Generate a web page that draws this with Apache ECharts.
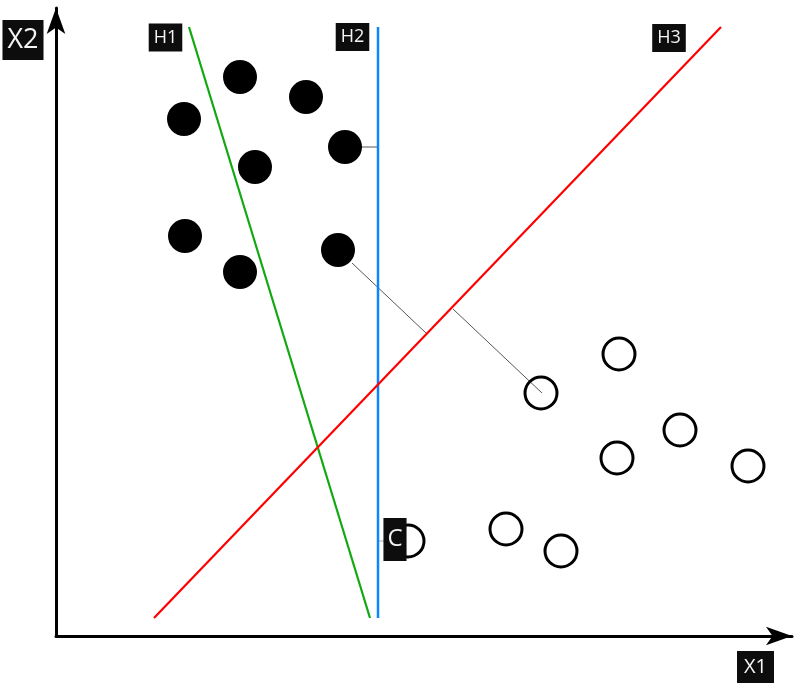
<!DOCTYPE html>
<html>
<head>
<meta charset="utf-8">
<script src="https://cdn.jsdelivr.net/npm/echarts@6/dist/echarts.min.js"></script>
<style>html,body{margin:0;padding:0;background:#fff}#c{width:800px;height:692px}</style>
</head>
<body>
<div id="c"></div>
<script>
// Data in axis units (origin at the axes corner)
const classA = [[184,559],[250,539],[128,517],[289,489],[199,469],[129,400],[184,364],[282,386]];
const classB = [[563,282],[485,243],[624,206],[561,178],[692,170],[450,107],[505,85],[352,95]];
const h1Line = [[133,609],[314,18]];
const h2Line = [[322,609],[322,18]];
const h3Line = [[98,18],[665,609]];
const distA2 = [[289,489],[322,489]];
const distA3 = [[296,373],[370,303]];
const distB3 = [[397,327],[486,243]];
const distC2 = [[322,95],[350,95]];
const labelTexts = ['X2','H1','H2','H3','X1','C'];
const labelAnchors = [[-33,596],[109.5,598.5],[296.5,599],[613,598],[699.5,-31],[339,96.5]];
const labelFont = [27,18,18,18,20,24];

const chart = echarts.init(document.getElementById('c'), null, {renderer:'canvas'});
const lineS = (data, color, width, z) => ({
  type:'line', data, symbol:'none', silent:true, z,
  lineStyle:{color, width, opacity:1}, animation:false
});
const labelData = labelTexts.map((t,i)=>{
  const fs = labelFont[i];
  let padding = [4,5], lh = 20;
  if (t==='X2'){padding=[5,5]; lh=30;}
  if (t==='X1'){padding=[5,7]; lh=22;}
  if (t==='C'){padding=[8,4]; lh=27;}
  return {value: labelAnchors[i], name:t, label:{show:true, position:'inside', formatter:t,
    fontSize:fs, lineHeight:lh, padding, color:'#f4f4f4', backgroundColor:'#0d0d0d',
    fontFamily:'Open Sans'}};
});
const axisCommon = {type:'value', splitLine:{show:false}, axisTick:{show:false}, axisLabel:{show:false},
  axisLine:{show:true, lineStyle:{color:'#000', width:3}, symbol:['none','arrow'], symbolSize:[14,26]}};
chart.setOption({
  animation:false,
  grid:{left:56, right:8, top:8, bottom:56},
  xAxis:Object.assign({min:0, max:736}, axisCommon),
  yAxis:Object.assign({min:0, max:628}, axisCommon),
  series:[
    {type:'scatter', data:classA, symbol:'circle', symbolSize:34, itemStyle:{color:'#000', opacity:1}, z:2},
    {type:'scatter', data:classB, symbol:'circle', symbolSize:32, itemStyle:{color:'rgba(0,0,0,0)', borderColor:'#000', borderWidth:3, opacity:1}, z:2},
    lineS(h1Line,'#12a812',2.2,3),
    lineS(h2Line,'#0a86ff',2.5,3),
    lineS(h3Line,'#ff0000',2.2,3),
    lineS(distA2,'#555',1,1),
    lineS(distA3,'#555',1,1),
    lineS(distB3,'#555',1,1),
    lineS(distC2,'#aaa',1,1),
    {type:'scatter', data:labelData, symbolSize:0, clip:false, z:10, silent:true, itemStyle:{opacity:1}}
  ]
});
</script>
</body>
</html>
